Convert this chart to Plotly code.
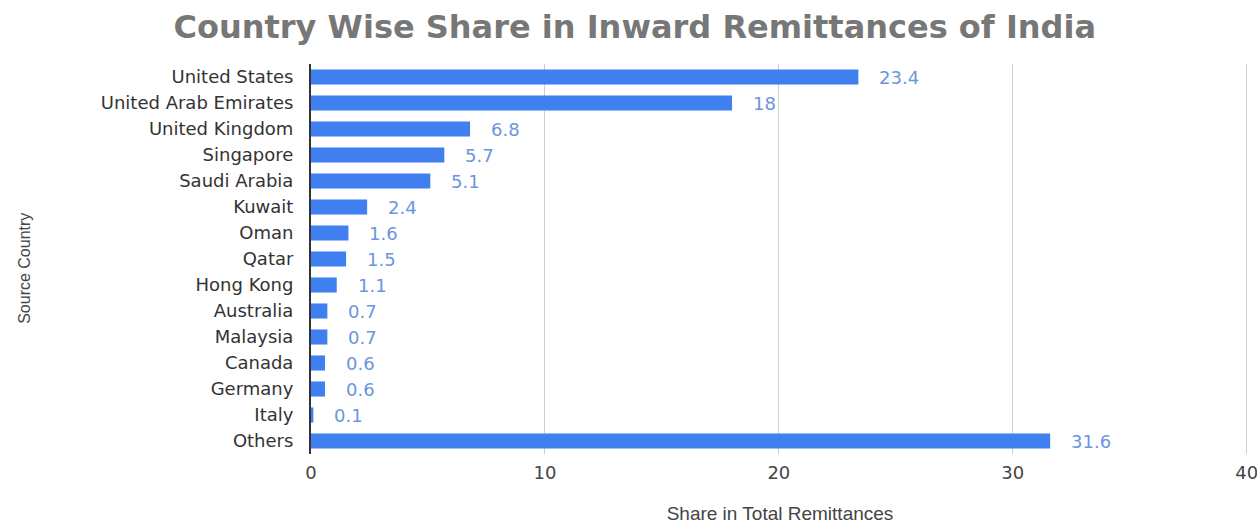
import plotly.graph_objects as go

# Share of inward remittances to India by source country (%)
countries = [
    "United States", "United Arab Emirates", "United Kingdom", "Singapore",
    "Saudi Arabia", "Kuwait", "Oman", "Qatar", "Hong Kong", "Australia",
    "Malaysia", "Canada", "Germany", "Italy", "Others",
]
shares = [23.4, 18, 6.8, 5.7, 5.1, 2.4, 1.6, 1.5, 1.1, 0.7, 0.7, 0.6, 0.6, 0.1, 31.6]
x_ticks = [0, 10, 20, 30, 40]

BAR_BLUE = "#3f7ff0"
LABEL_BLUE = "#6b95de"

fig = go.Figure(
    go.Bar(
        x=shares,
        y=countries,
        orientation="h",
        marker=dict(color=BAR_BLUE, line=dict(width=0)),
        hoverinfo="x+y",
    )
)

# value labels placed just past the end of each bar
for c, v in zip(countries, shares):
    fig.add_annotation(
        x=v, y=c, xref="x", yref="y",
        text=f"{v:g}", showarrow=False,
        xanchor="left", xshift=19,
        font=dict(family="DejaVu Sans", size=18, color=LABEL_BLUE),
    )

# rotated y-axis title
fig.add_annotation(
    x=-0.316, y=0.475, xref="paper", yref="paper",
    text="Source Country", showarrow=False, textangle=-90,
    font=dict(family="Liberation Sans", size=16, color="#444444"),
)

fig.update_layout(
    width=1257, height=524,
    margin=dict(l=311, r=8, t=64, b=70),
    paper_bgcolor="white", plot_bgcolor="white",
    showlegend=False,
    bargap=0.42,
    title=dict(
        text="<b>Country Wise Share in Inward Remittances of India</b>",
        x=0.505, xanchor="center", y=0.948, yanchor="middle",
        font=dict(family="DejaVu Sans", size=32, color="#777777"),
    ),
    xaxis=dict(
        # slight headroom so the gridline at 40 stays inside the plot area
        range=[0, 40.1], tickvals=x_ticks, ticktext=[str(t) for t in x_ticks],
        showgrid=True, gridcolor="#cfcfcf", gridwidth=1,
        zeroline=False, showline=False, automargin=False,
        ticks="", ticklabelstandoff=6, ticklabeloverflow="allow",
        tickfont=dict(family="DejaVu Sans", size=18, color="#444444"),
        title=dict(text="Share in Total Remittances", standoff=26,
                   font=dict(family="Liberation Sans", size=19, color="#444444")),
    ),
    yaxis=dict(
        categoryorder="array", categoryarray=countries, autorange="reversed",
        showline=True, linecolor="#333333", linewidth=2,
        ticks="", ticklabelstandoff=12, automargin=False,
        tickfont=dict(family="DejaVu Sans", size=18, color="#333333"),
    ),
)

fig.write_html("out.html")
